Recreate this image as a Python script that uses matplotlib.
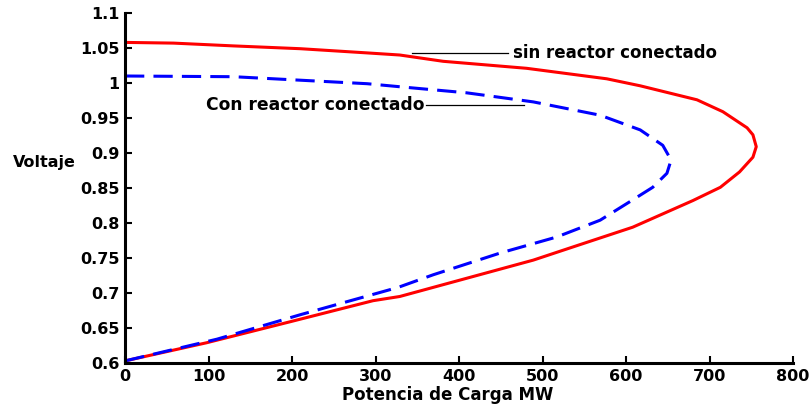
import matplotlib.pyplot as plt

# curva P-V: sin reactor / con reactor conectado
P_sin = [0, 58, 130, 210, 290, 329, 381, 481, 577, 617, 685, 716, 745, 752, 756, 752, 736, 713, 680,
         608, 537, 489, 409, 329, 297, 198, 98, 0]
V_sin = [1.058, 1.057, 1.053, 1.049, 1.043, 1.040, 1.031, 1.021, 1.006, 0.996, 0.976, 0.959, 0.936, 0.926,
         0.909, 0.894, 0.873, 0.851, 0.832, 0.794, 0.766, 0.747, 0.721, 0.695, 0.689, 0.659, 0.629, 0.603]

P_con = [0, 130, 210, 290, 335, 409, 489, 569, 617, 644, 654, 649, 632, 608, 569, 517, 449, 369, 327,
         210, 110, 0]
V_con = [1.010, 1.009, 1.004, 0.999, 0.994, 0.986, 0.973, 0.954, 0.933, 0.911, 0.890, 0.871, 0.851,
         0.833, 0.804, 0.780, 0.757, 0.726, 0.708, 0.669, 0.634, 0.603]

xticks = [0, 100, 200, 300, 400, 500, 600, 700, 800]
yticks = [0.6, 0.65, 0.7, 0.75, 0.8, 0.85, 0.9, 0.95, 1, 1.05, 1.1]
ylabels = ['0.6', '0.65', '0.7', '0.75', '0.8', '0.85', '0.9', '0.95', '1', '1.05', '1.1']

plt.rcParams['font.family'] = 'DejaVu Sans'
plt.rcParams['font.weight'] = 'bold'

fig = plt.figure(figsize=(8.12, 4.04), dpi=100)
ax = fig.add_axes([0.154, 0.1015, 0.8226, 0.8663])

ax.plot(P_sin, V_sin, color='#ff0000', lw=2.2)
ax.plot(P_con, V_con, color='#0000ff', lw=2.2, dashes=(6.3, 3))

ax.set_xlim(0, 800)
ax.set_ylim(0.6, 1.1)
ax.set_xticks(xticks)
ax.set_yticks(yticks)
ax.set_yticklabels(ylabels)
ax.tick_params(direction='in', length=5, width=1.5, labelsize=11.5, pad=4)
for lab in ax.get_xticklabels() + ax.get_yticklabels():
    lab.set_fontweight('bold')

for s in ['top', 'right']:
    ax.spines[s].set_visible(False)
for s in ['left', 'bottom']:
    ax.spines[s].set_linewidth(2.2)

# etiquetas con lineas
ax.plot([344, 459], [1.0429, 1.0429], color='black', lw=0.9)
ax.text(465, 1.0429, 'sin reactor conectado', fontsize=12, fontweight='bold', va='center', ha='left')
ax.plot([361, 478], [0.9686, 0.9686], color='black', lw=0.9)
ax.text(359, 0.9686, 'Con reactor conectado', fontsize=12.3, fontweight='bold', va='center', ha='right')

fig.text(44 / 812, 1 - 163 / 404, 'Voltaje', fontsize=11.5, fontweight='bold', ha='center', va='center')
fig.text(448 / 812, 1 - 395 / 404, 'Potencia de Carga MW', fontsize=12, fontweight='bold',
         ha='center', va='center')

fig.savefig('out.png', dpi=100)
